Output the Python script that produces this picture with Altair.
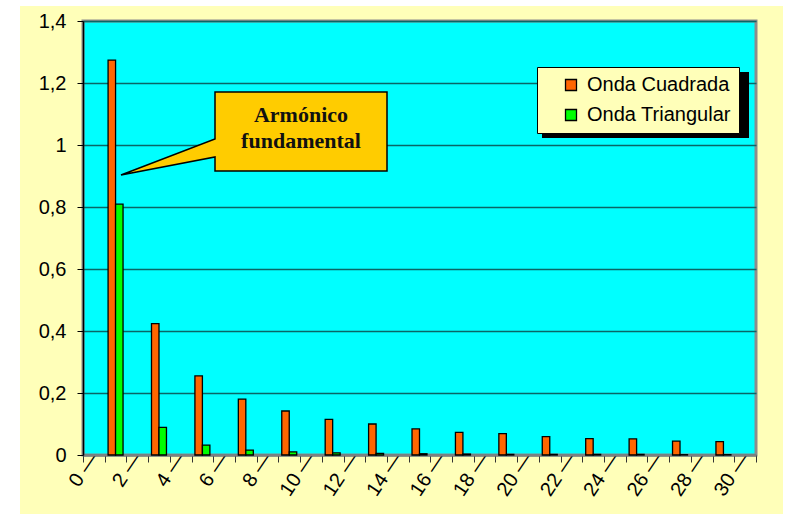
import altair as alt
import pandas as pd

# Harmonic order (odd harmonics only) and amplitudes of each waveform
armonico = [1, 3, 5, 7, 9, 11, 13, 15, 17, 19, 21, 23, 25, 27, 29]
onda_cuadrada = [1.274, 0.424, 0.255, 0.180, 0.142, 0.115, 0.100, 0.084,
                 0.073, 0.069, 0.059, 0.053, 0.052, 0.045, 0.043]
onda_triangular = [0.809, 0.089, 0.032, 0.016, 0.010, 0.007, 0.005, 0.004,
                   0.003, 0.002, 0.002, 0.002, 0.002, 0.001, 0.001]
series = ["Onda Cuadrada", "Onda Triangular"]
colores = ["#FF6600", "#00FF00"]
categorias = list(range(31))
y_ticks = [0, 0.2, 0.4, 0.6, 0.8, 1.0, 1.2, 1.4]
nota = ["Armónico", "fundamental"]

rows = []
for n, c, t in zip(armonico, onda_cuadrada, onda_triangular):
    rows.append({"n": n, "serie": series[0], "valor": c})
    rows.append({"n": n, "serie": series[1], "valor": t})
df = pd.DataFrame(rows)

W, H = 673, 434
FONT = "Liberation Sans"

bars = alt.Chart(df).mark_bar(stroke="black", strokeWidth=1.3).encode(
    x=alt.X(
        "n:O",
        scale=alt.Scale(domain=categorias, paddingInner=0, paddingOuter=0),
        axis=alt.Axis(
            title=None,
            tickBand="extent",
            labelAngle=-56,
            labelAlign="right",
            labelBaseline="middle",
            labelPadding=-8,
            labelOverlap=False,
            labelExpr="datum.value % 2 == 0 ? datum.label + ' \u2014' : ''",
            labelFont=FONT,
            labelFontSize=20,
            labelColor="black",
            tickSize=7,
            tickColor="#333333",
            domainColor="#808080",
            domainWidth=2,
        ),
    ),
    xOffset=alt.XOffset(
        "serie:N",
        scale=alt.Scale(domain=series, paddingInner=0, paddingOuter=0.45),
    ),
    y=alt.Y(
        "valor:Q",
        scale=alt.Scale(domain=[0, 1.4], nice=False, zero=True),
        axis=alt.Axis(
            title=None,
            values=y_ticks,
            format=".1~f",
            labelExpr="replace(datum.label, '.', ',')",
            labelFont=FONT,
            labelFontSize=20,
            labelColor="black",
            labelPadding=11,
            tickSize=6,
            tickColor="black",
            domainColor="black",
            domainWidth=1.5,
            grid=True,
            gridColor="#0a6666",
            gridWidth=1.3,
        ),
    ),
    color=alt.Color(
        "serie:N",
        scale=alt.Scale(domain=series, range=colores),
        legend=alt.Legend(
            title=None,
            orient="none",
            legendX=454,
            legendY=46,
            fillColor="#FFFFB9",
            strokeColor="black",
            padding=8,
            symbolType="square",
            symbolSize=121,
            symbolStrokeColor="black",
            symbolStrokeWidth=1.3,
            symbolOffset=16,
            labelOffset=6,
            rowPadding=10,
            labelFont=FONT,
            labelFontSize=20,
            labelColor="black",
        ),
    ),
)

# White margins around the yellow chart panel
margen = alt.Chart(pd.DataFrame({"lado": ["izq", "sup", "der"],
                                 "x0": [-83, -83, 700], "x1": [-63, 704, 704],
                                 "y0": [-21, -21, -21], "y1": [493, -15, 493]})).mark_rect(
    fill="white", stroke=None
).encode(
    x=alt.X("x0:Q", scale=None), x2="x1:Q",
    y=alt.Y("y0:Q", scale=None), y2="y1:Q",
)

# Drop shadow of the legend box
sombra = alt.Chart(pd.DataFrame({"a": [0]})).mark_rect(fill="black").encode(
    x=alt.value(459), x2=alt.value(666), y=alt.value(51), y2=alt.value(117)
)

# Callout balloon pointing at the fundamental harmonic
globo = alt.Chart(pd.DataFrame({"a": [0]})).mark_point(
    shape="M132,71 L304,71 L304,150 L132,150 L132,136 L38,154 L132,118 Z",
    size=4, filled=True, fill="#FFCC00", stroke="black", strokeWidth=1.5, opacity=1,
).encode(x=alt.value(0), y=alt.value(0))

texto = alt.Chart(pd.DataFrame({"t": nota, "fila": [0, 1]})).mark_text(
    font="Liberation Serif", fontSize=22, fontWeight="bold", color="#111111",
    align="center", baseline="alphabetic",
).encode(
    text="t:N",
    x=alt.value(218),
    y=alt.Y("fila:Q", scale=alt.Scale(domain=[0, 1], range=[101, 127]), axis=None),
)

chart = alt.layer(bars, margen, sombra, globo, texto).resolve_scale(
    y="independent"
).properties(
    width=W, height=H,
    autosize=alt.AutoSizeParams(type="none"),
    padding={"left": 83, "top": 21, "right": 31, "bottom": 59},
    background="#FFFFB9",
).configure_view(
    fill="#00FFFF", stroke="#8c8c8c", strokeWidth=3
)

chart.save("out.html", embed_options={"renderer": "svg", "actions": False})
